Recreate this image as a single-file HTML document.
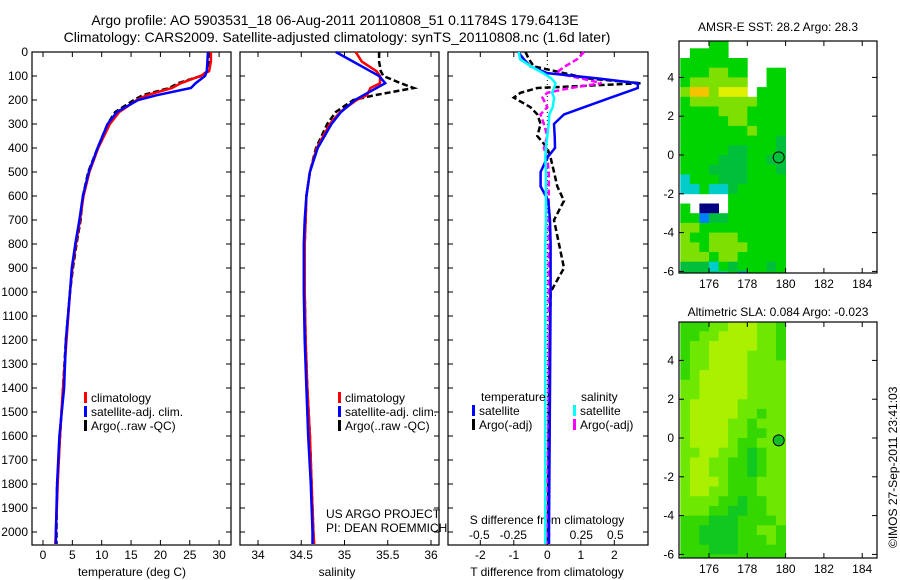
<!DOCTYPE html>
<html><head><meta charset="utf-8"><style>
body{margin:0;background:#fff;}
svg{display:block;font-family:"Liberation Sans",sans-serif;}
</style></head><body>
<svg id="c" width="900" height="580" xmlns="http://www.w3.org/2000/svg">
<text x="335" y="25" font-size="14" text-anchor="middle">Argo profile: AO 5903531_18 06-Aug-2011 20110808_51 0.11784S 179.6413E</text>
<text x="337" y="42" font-size="14" text-anchor="middle">Climatology: CARS2009. Satellite-adjusted climatology: synTS_20110808.nc (1.6d later)</text>
<text x="778" y="31" font-size="12" text-anchor="middle">AMSR-E SST: 28.2 Argo: 28.3</text>
<text x="778" y="316" font-size="12" text-anchor="middle">Altimetric SLA: 0.084 Argo: -0.023</text>
<text transform="translate(897,548) rotate(-90)" font-size="12">©IMOS 27-Sep-2011 23:41:03</text>
</svg>
<script>
// ---- data ----
const depthTicks=[0,100,200,300,400,500,600,700,800,900,1000,1100,1200,1300,1400,1500,1600,1700,1800,1900,2000];
const tempTicks=[0,5,10,15,20,25,30];
const salTicks=[34,34.5,35,35.5,36];
const tdTicks=[-2,-1,0,1,2];
const sdTicks=[-0.5,-0.25,0,0.25,0.5];
const sdTickLabels=["-0.5","-0.25","0","0.25","0.5"];
const latTicks=[4,2,0,-2,-4,-6];
const lonTicks=[176,178,180,182,184];

const depths=[0,40,80,100,130,150,180,200,250,300,400,500,600,700,800,900,1000,1200,1400,1600,1800,2000,2050];
const tempClim=[28.6,28.6,28.3,26.8,23.5,22.0,17.7,16.0,13.0,11.4,9.4,7.9,6.9,6.3,5.6,5.0,4.6,4.0,3.4,2.9,2.5,2.2,2.1];
const tempSat=[28.1,28.0,27.9,27.6,26.0,25.2,19.4,16.2,12.6,11.0,9.3,7.8,6.8,6.2,5.5,4.9,4.6,3.9,3.6,2.8,2.4,2.2,2.2];
const tempArgo=[28.4,28.3,28.0,26.9,23.0,21.5,17.0,15.5,12.3,11.0,9.3,7.7,6.8,6.4,5.7,5.1,4.6,3.9,3.4,2.9,2.4,2.3,2.3];
const salClim=[35.13,35.2,35.37,35.41,35.41,35.3,35.26,35.14,34.95,34.83,34.68,34.6,34.56,34.55,34.54,34.54,34.54,34.55,34.57,34.6,34.62,34.64,34.65];
const salSat=[34.9,35.1,35.3,35.4,35.47,35.37,35.22,35.12,34.96,34.85,34.69,34.6,34.56,34.54,34.53,34.53,34.53,34.54,34.56,34.58,34.61,34.63,34.63];
const salArgo=[35.4,35.4,35.42,35.45,35.65,35.8,35.35,35.1,34.9,34.8,34.67,34.6,34.56,34.55,34.54,34.54,34.54,34.55,34.57,34.6,34.62,34.64,34.64];
const dDepths=[0,30,60,88,110,130,150,170,190,230,260,300,350,400,440,500,560,620,700,800,900,1000,1400,2000,2050];
const tdSat=[-0.87,-0.7,-0.5,0,1.5,2.7,2.7,2.3,1.9,1.1,0.5,0.2,0.22,0.23,0.0,-0.2,-0.2,0.03,0.08,0.1,0.1,0.1,0.08,0.05,0.05];
const tdArgo=[-0.65,-0.55,-0.4,0.5,1.2,2.8,-0.3,-0.8,-1.0,-0.5,-0.3,-0.2,-0.3,0.0,0.1,0.2,0.3,0.5,0.2,0.35,0.5,0.1,0.05,0.02,0.02];
const sdSat=[-0.21,-0.2,-0.12,-0.03,0.03,0.06,0.05,0.035,0.05,0.04,0.015,0.01,0.0,-0.01,-0.015,-0.01,-0.01,-0.01,-0.01,-0.015,-0.015,-0.015,-0.015,-0.015,-0.015];
const sdArgo=[0.27,0.22,0.13,0.06,0.25,0.4,0.17,0.0,-0.035,0.0,-0.05,-0.025,0.0,-0.025,0.0,0.01,0.01,0.01,0.01,0.01,0.01,0.01,0.01,0.0,0.0];

// map grids: rows from lat 6 down to -6.5 step 0.5, cols lon 174.5..180 step 0.5
const sstGrid=[
"wwwggwwwwww","wggggwwwwww","gggggggwwww","gggyyggwwgg","gyyyyyywwgg","yOOyYYYwggg",
"gyyyyyyyggg","ggggyyygggg","gggggyygggg","gggggggyggg","ggggggggggG","gggggGGgggG",
"ggggGGGggGG","gggGGGGgggG","cgggGGGgggg","ccgccGggggg","wwwwwgggggg","gwbbwgggggg",
"ggBGGgggggg","yyggggggggg","yggyyyggggg","yygyyyygggg","yyygyyggggg","GGGcgGgggGg","GGGGcgBgggg"];
const slaGrid=[
"gggyylllyyg","ggyyllllyyg","gyylllllyyg","gyyllllyyyg","gyyllllyyyy","gylllllyyyy",
"yylllllyyyy","yylllllyyyy","ylllllyyyyy","ylllllyygyy","yllllyygyyy","yllllyyggyy",
"yllllyggyyy","yyllyygGgyy","yllyyggGgyy","yllyyggGgyy","ylllygggyyy","yllyygggyyy",
"yyyyggGggyy","yyyggGGggyy","gggGGGggggy","ggGGGGggyyg","ggGGGGgggyg","gggGGGggggg","ggggggggggg"];
const sstColors={w:null,g:"#00d400",G:"#00bf3a",y:"#7ee000",Y:"#dff000",O:"#f4c400",c:"#00cccc",b:"#000080",B:"#0080ff"};
const slaColors={g:"#34d800",G:"#10c820",y:"#6ee800",l:"#aaf000"};
const argoLon=179.64, argoLat=-0.12;

// ---- drawing ----
const svg=document.getElementById('c');
const NS="http://www.w3.org/2000/svg";
function mk(tag,attrs,parent){const e=document.createElementNS(NS,tag);for(const k in attrs)e.setAttribute(k,attrs[k]);(parent||svg).appendChild(e);return e;}
const Y0=52, YS=0.24;
const yD=d=>Y0+d*YS;
const xT=t=>43+5.87*t;
const xS=s=>258+86.5*(s-34);
const xTD=v=>547.3+33.5*v;
const xSD=v=>547.3+136*v;

function panel(x0,x1,name){
  const g=mk('g',{});
  
  
  mk('rect',{x:x0,y:52,width:x1-x0,height:493,fill:'none',stroke:'#000','stroke-width':1.2},g);
  return g;
}
function line(g,xs,ys,color,dash,name,w){
  let d='';
  for(let i=0;i<xs.length;i++)d+=(i?'L':'M')+xs[i].toFixed(1)+' '+ys[i].toFixed(1);
  const p=mk('path',{d:d,fill:'none',stroke:color,'stroke-width':w||2.5},g);
  if(dash)p.setAttribute('stroke-dasharray',dash);
  
  
}
function txt(g,x,y,s,anchor,size,name){
  const t=mk('text',{x:x,y:y,'font-size':size||12,'text-anchor':anchor||'start'},g);
  t.textContent=s;
  
  
  return t;
}

// panel 1
const p1=panel(32,231,'temperature-panel');
depthTicks.forEach(d=>{mk('line',{x1:32,x2:37,y1:yD(d),y2:yD(d),stroke:'#000'},p1);mk('line',{x1:226,x2:231,y1:yD(d),y2:yD(d),stroke:'#000'},p1);
  txt(p1,28,yD(d)+4,String(d),'end',12,'depth-tick-label');});
tempTicks.forEach(t=>{const x=xT(t);mk('line',{x1:x,x2:x,y1:545,y2:540,stroke:'#000'},p1);mk('line',{x1:x,x2:x,y1:52,y2:57,stroke:'#000'},p1);
  txt(p1,x,559,String(t),'middle',12,'temperature-tick-label');});
txt(p1,132,576,'temperature (deg C)','middle',12,'x-axis-title-temperature');
line(p1,tempArgo.map(xT),depths.map(yD),'#000','6 3','temperature-argo-line');
line(p1,tempClim.map(xT),depths.map(yD),'#f00',null,'temperature-climatology-line');
line(p1,tempSat.map(xT),depths.map(yD),'#00f',null,'temperature-satellite-line');
function legend(g,x,y,items){items.forEach((it,i)=>{mk('rect',{x:x,y:y+i*14-10,width:3,height:11,fill:it[0]},g);txt(g,x+7,y+i*14,it[1],'start',12,'legend-entry');});}
legend(p1,84,402,[['#f00','climatology'],['#00f','satellite-adj. clim.'],['#000','Argo(..raw -QC)']]);

// panel 2
const p2=panel(240,439,'salinity-panel');
depthTicks.forEach(d=>{mk('line',{x1:240,x2:245,y1:yD(d),y2:yD(d),stroke:'#000'},p2);mk('line',{x1:434,x2:439,y1:yD(d),y2:yD(d),stroke:'#000'},p2);});
salTicks.forEach(s=>{const x=xS(s);mk('line',{x1:x,x2:x,y1:545,y2:540,stroke:'#000'},p2);mk('line',{x1:x,x2:x,y1:52,y2:57,stroke:'#000'},p2);
  txt(p2,x,559,String(s),'middle',12,'salinity-tick-label');});
txt(p2,337,576,'salinity','middle',12,'x-axis-title-salinity');
line(p2,salArgo.map(xS),depths.map(yD),'#000','6 3','salinity-argo-line');
line(p2,salClim.map(xS),depths.map(yD),'#f00',null,'salinity-climatology-line');
line(p2,salSat.map(xS),depths.map(yD),'#00f',null,'salinity-satellite-line');
legend(p2,338,402,[['#f00','climatology'],['#00f','satellite-adj. clim.'],['#000','Argo(..raw -QC)']]);
txt(p2,326,518,'US ARGO PROJECT','start',12,'project-label');
txt(p2,326,532,'PI: DEAN ROEMMICH','start',12,'pi-label');

// panel 3
const p3=panel(448,648,'difference-panel');
depthTicks.forEach(d=>{mk('line',{x1:448,x2:453,y1:yD(d),y2:yD(d),stroke:'#000'},p3);mk('line',{x1:643,x2:648,y1:yD(d),y2:yD(d),stroke:'#000'},p3);});
tdTicks.forEach(v=>{const x=xTD(v);mk('line',{x1:x,x2:x,y1:545,y2:540,stroke:'#000'},p3);mk('line',{x1:x,x2:x,y1:52,y2:57,stroke:'#000'},p3);
  txt(p3,x,559,String(v),'middle',12,'t-diff-tick-label');});
sdTicks.forEach((v,i)=>{txt(p3,xSD(v),539,sdTickLabels[i],'middle',12,'s-diff-tick-label');});
txt(p3,547,524,'S difference from climatology','middle',12,'s-diff-axis-title');
txt(p3,547,576,'T difference from climatology','middle',12,'t-diff-axis-title');
mk('line',{x1:547.3,x2:547.3,y1:52,y2:545,stroke:'#000','stroke-dasharray':'1 3'},p3);
line(p3,tdArgo.map(xTD),dDepths.map(yD),'#000','6 3','t-diff-argo-line');
line(p3,sdArgo.map(xSD),dDepths.map(yD),'#f0f','6 3','s-diff-argo-line');
line(p3,tdSat.map(xTD),dDepths.map(yD),'#00f',null,'t-diff-satellite-line');
line(p3,sdSat.map(xSD),dDepths.map(yD),'#0ff',null,'s-diff-satellite-line');
txt(p3,481,401,'temperature','start',12,'legend-header-temperature');
txt(p3,581,401,'salinity','start',12,'legend-header-salinity');
legend(p3,472,415,[['#00f','satellite'],['#000','Argo(-adj)']]);
legend(p3,573,415,[['#0ff','satellite'],['#f0f','Argo(-adj)']]);

// maps
function map(top,bottom,y0,grid,colors,name,filledMarker){
  const g=mk('g',{});
  
  
  const xL=lon=>709+19.15*(lon-176);
  const yL=lat=>y0-19.4*lat;
  grid.forEach((row,r)=>{for(let c=0;c<row.length;c++){const col=colors[row[c]];if(!col)continue;
    const lat=6-r*0.5, lon=174.5+c*0.5;
    const x=xL(lon), y=Math.max(top,yL(lat)), yb=Math.min(bottom,yL(lat-0.5));
    if(yb>y) mk('rect',{x:x.toFixed(1),y:y.toFixed(1),width:(xL(lon+0.5)-x+0.4).toFixed(1),height:(yb-y+0.4).toFixed(1),fill:col},g);}});
  mk('rect',{x:679,y:top,width:198,height:bottom-top,fill:'none',stroke:'#000','stroke-width':1.2},g);
  latTicks.forEach(l=>{const y=yL(l);mk('line',{x1:679,x2:684,y1:y,y2:y,stroke:'#000'},g);mk('line',{x1:872,x2:877,y1:y,y2:y,stroke:'#000'},g);
    txt(g,674,y+4,String(l),'end',12,'latitude-tick-label');});
  lonTicks.forEach(l=>{const x=xL(l);mk('line',{x1:x,x2:x,y1:bottom,y2:bottom-5,stroke:'#000'},g);mk('line',{x1:x,x2:x,y1:top,y2:top+5,stroke:'#000'},g);
    txt(g,x,bottom+15,String(l),'middle',12,'longitude-tick-label');});
  const m=mk('circle',{cx:xL(argoLon),cy:yL(argoLat),r:5.5,fill:filledMarker?'#10c020':'none',stroke:'#000'},g);
  
  
}
map(41,273,155,sstGrid,sstColors,'sst-map',false);
map(322,558,438,slaGrid,slaColors,'sla-map',true);
</script>
</body></html>
